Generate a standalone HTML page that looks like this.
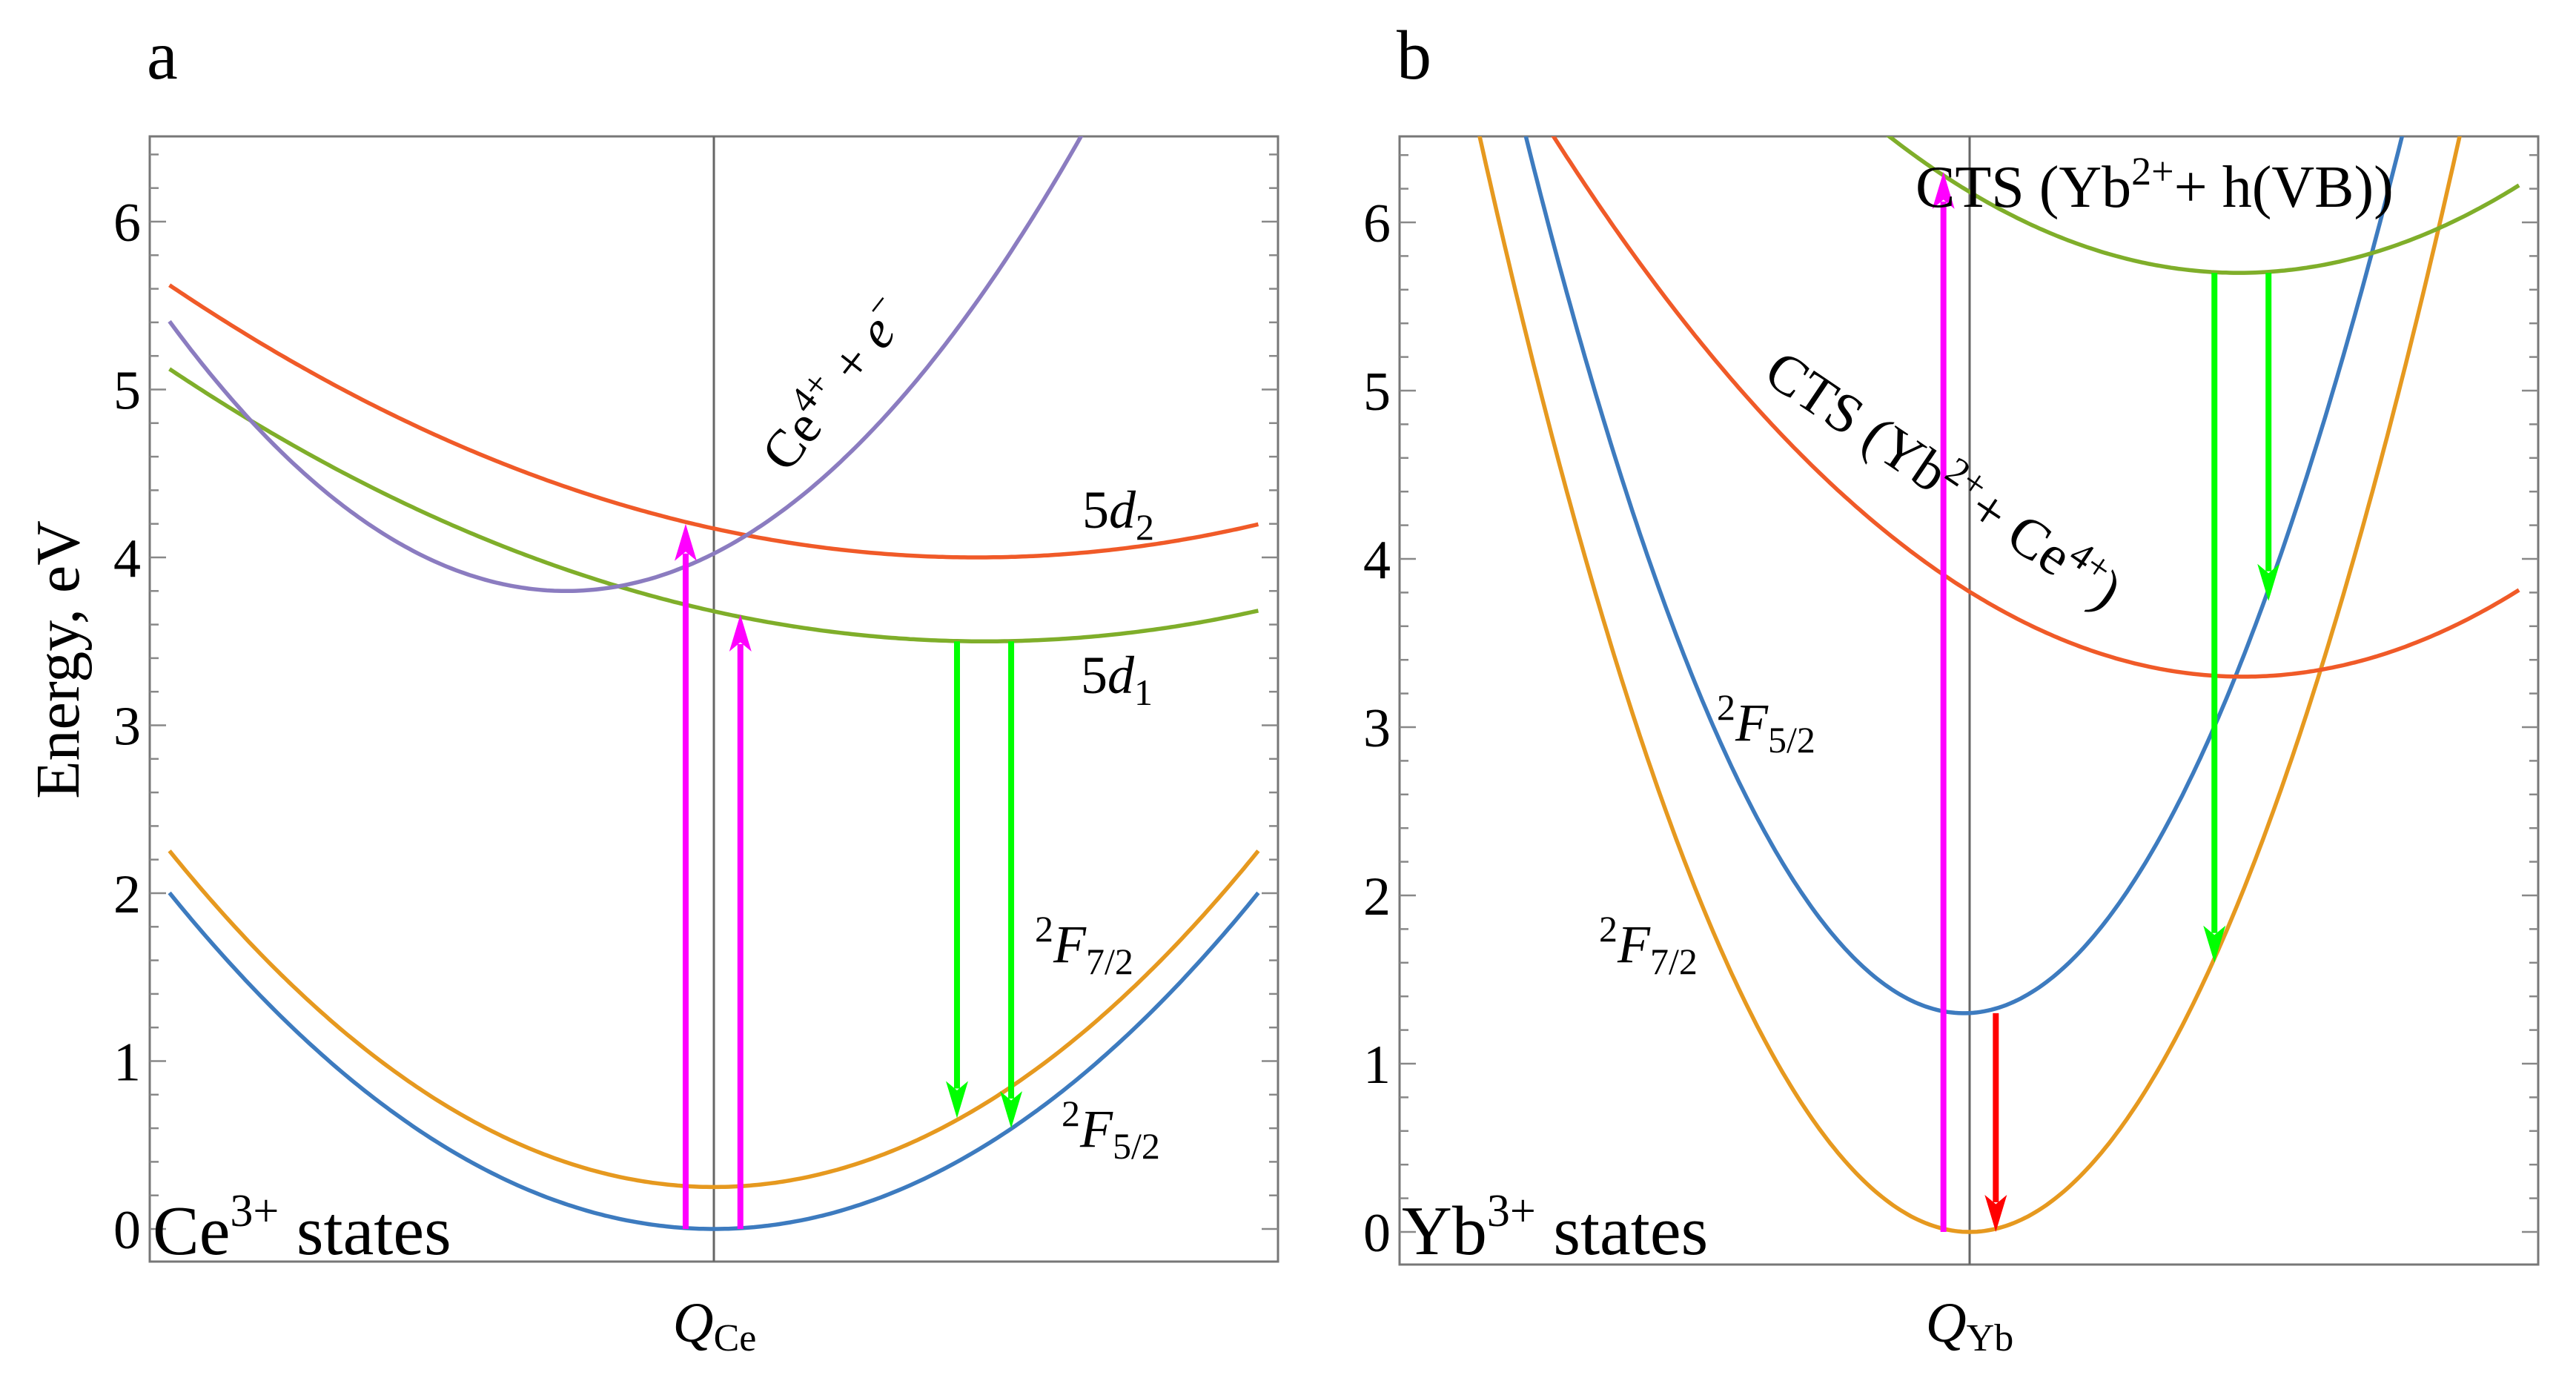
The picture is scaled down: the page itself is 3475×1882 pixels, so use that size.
<!DOCTYPE html>
<html><head><meta charset="utf-8">
<style>
html,body{margin:0;padding:0;background:#fff;}
svg{display:block;}
svg text{font-family:"Liberation Serif","DejaVu Serif",serif;}
</style></head>
<body>
<svg id="chart" width="3475" height="1882" viewBox="0 0 3475 1882" xmlns="http://www.w3.org/2000/svg" font-family="Liberation Serif, serif">
<defs>
<clipPath id="clipA"><rect x="202" y="184" width="1522" height="1518"/></clipPath>
<clipPath id="clipB"><rect x="1888" y="184" width="1536" height="1522"/></clipPath>
</defs>
<g id="panelA"></g>
<g id="panelB"></g>

<text x="198" y="106" font-size="94">a</text>
<text x="1884" y="106" font-size="94">b</text>
<text transform="translate(106,890) rotate(-90)" text-anchor="middle" font-size="84">Energy, eV</text>

<text x="964" y="1810" text-anchor="middle" font-size="76" font-style="italic">Q<tspan font-style="normal" font-size="52" dy="12">Ce</tspan></text>
<text x="2657" y="1810" text-anchor="middle" font-size="76" font-style="italic">Q<tspan font-style="normal" font-size="52" dy="12">Yb</tspan></text>

<text transform="translate(1062,640) rotate(-52)" font-size="72">Ce<tspan font-size="50" dy="-28">4+</tspan><tspan dy="28"> + </tspan><tspan font-style="italic">e</tspan><tspan font-size="50" dy="-28">−</tspan></text>
<text x="1460" y="712" font-size="72">5<tspan font-style="italic">d</tspan><tspan font-size="50" dy="16">2</tspan></text>
<text x="1458" y="935" font-size="72">5<tspan font-style="italic">d</tspan><tspan font-size="50" dy="16">1</tspan></text>
<text x="1396" y="1298" font-size="72"><tspan font-size="50" dy="-28">2</tspan><tspan font-style="italic" dy="28">F</tspan><tspan font-size="50" dy="16">7/2</tspan></text>
<text x="1432" y="1547" font-size="72"><tspan font-size="50" dy="-28">2</tspan><tspan font-style="italic" dy="28">F</tspan><tspan font-size="50" dy="16">5/2</tspan></text>
<text x="206" y="1692" font-size="94">Ce<tspan font-size="62" dy="-38">3+</tspan><tspan dy="38"> states</tspan></text>

<text x="2584" y="279" font-size="80">CTS (Yb<tspan font-size="54" dy="-30">2+</tspan><tspan dy="30">+ h(VB))</tspan></text>
<text transform="translate(2376,512) rotate(34)" font-size="76">CTS (Yb<tspan font-size="52" dy="-28">2+</tspan><tspan dy="28">+ Ce</tspan><tspan font-size="52" dy="-28">4+</tspan><tspan dy="28">)</tspan></text>
<text x="2316" y="999" font-size="72"><tspan font-size="50" dy="-28">2</tspan><tspan font-style="italic" dy="28">F</tspan><tspan font-size="50" dy="16">5/2</tspan></text>
<text x="2157" y="1298" font-size="72"><tspan font-size="50" dy="-28">2</tspan><tspan font-style="italic" dy="28">F</tspan><tspan font-size="50" dy="16">7/2</tspan></text>
<text x="1891" y="1692" font-size="94">Yb<tspan font-size="62" dy="-38">3+</tspan><tspan dy="38"> states</tspan></text>
</svg>
<script>
// Panel a data: parabolas E = minE + k*(x - minX)^2
const namesA = ['2F5/2','2F7/2','5d1','5d2','Ce4+ + e'];
const minXA = [0, 0, 0.48, 0.466, -0.262];
const minEA = [0, 0.25, 3.5, 4.0, 3.8];
const curvA = [2.15, 2.15, 0.777, 0.792, 3.25];
const colorsA = ['#3d7bbf','#e6991f','#7fae2a','#f05a28','#8b7cc0'];
const arrowXA = [-0.05, 0.047, 0.431, 0.527];
const arrowFromA = [0, 0, 3.5, 3.5];
const arrowToA = [4.2, 3.66, 0.66, 0.6];
const arrowColA = ['#ff00ff','#ff00ff','#00ff00','#00ff00'];
// Panel b data
const namesB = ['2F7/2','2F5/2','CTS Yb2+ Ce4+','CTS Yb2+ h(VB)'];
const minXB = [0, -0.01, 0.48, 0.473];
const minEB = [0, 1.3, 3.3, 5.7];
const curvB = [8.79, 8.8, 2.19, 2.15];
const colorsB = ['#e6991f','#3d7bbf','#f05a28','#7fae2a'];
const arrowXB = [-0.046, 0.046, 0.43, 0.525];
const arrowFromB = [0, 1.3, 5.7, 5.7];
const arrowToB = [6.3, 0, 1.6, 3.75];
const arrowColB = ['#ff00ff','#ff0000','#00ff00','#00ff00'];
const yTicks = [0,1,2,3,4,5,6];

const NS = 'http://www.w3.org/2000/svg';
function mk(tag, attrs, parent){const e=document.createElementNS(NS,tag);for(const k in attrs)e.setAttribute(k,attrs[k]);parent.appendChild(e);return e;}

function drawPanel(g, P, names, minX, minE, curv, colors, ax, af, at, ac, tag){
  const sx = x => P.cx + x*P.hw;
  const sy = e => P.y0 - e*P.ppu;
  const fr = mk('rect',{x:P.l,y:P.t,width:P.r-P.l,height:P.b-P.t,fill:'none',stroke:'#777','stroke-width':3},g);
  
  
  for(let i=0;i<=32;i++){
    const e=i*0.2; const y=sy(e); if(y<P.t) break;
    const major = i%5===0; const len = major?22:12;
    const t1 = mk('line',{x1:P.l,x2:P.l+len,y1:y,y2:y,stroke:'#888','stroke-width':2.5},g);
    
    
    const t2 = mk('line',{x1:P.r,x2:P.r-len,y1:y,y2:y,stroke:'#888','stroke-width':2.5},g);
    
    
  }
  yTicks.forEach(v=>{
    const t = mk('text',{x:P.l-12,y:sy(v)+26,'text-anchor':'end','font-size':74},g);
    t.textContent = v;
    
    
  });
  const cl = mk('line',{x1:sx(0),x2:sx(0),y1:P.t,y2:P.b,stroke:'#666','stroke-width':3},g);
  
  
  const cg = mk('g',{'clip-path':'url(#'+P.clip+')'},g);
  names.forEach((n,i)=>{
    let d='';
    for(let j=0;j<=300;j++){
      const x=-0.965+1.93*j/300; const e=minE[i]+curv[i]*(x-minX[i])**2;
      d += (j?'L':'M')+sx(x).toFixed(1)+','+sy(e).toFixed(1);
    }
    const p = mk('path',{d:d,fill:'none',stroke:colors[i],'stroke-width':5.5},cg);
    
    
  });
  ax.forEach((x,i)=>{
    const X=sx(x), y1=sy(af[i]), y2=sy(at[i]); const dir = y2<y1?-1:1;
    const hl=50, hw=15;
    const ag = mk('g',{},g);
    
    
    mk('line',{x1:X,x2:X,y1:y1,y2:y2-dir*hl*0.8,stroke:ac[i],'stroke-width':8},ag);
    mk('polygon',{points:`${X},${y2} ${X-hw},${y2-dir*hl} ${X},${y2-dir*hl*0.75} ${X+hw},${y2-dir*hl}`,fill:ac[i]},ag);
  });
}
const PA={l:202,r:1724,t:184,b:1702,cx:963,hw:761,y0:1658,ppu:226.5,clip:'clipA'};
const PB={l:1888,r:3424,t:184,b:1706,cx:2657,hw:768,y0:1662,ppu:227,clip:'clipB'};
drawPanel(document.getElementById('panelA'),PA,namesA,minXA,minEA,curvA,colorsA,arrowXA,arrowFromA,arrowToA,arrowColA,'a');
drawPanel(document.getElementById('panelB'),PB,namesB,minXB,minEB,curvB,colorsB,arrowXB,arrowFromB,arrowToB,arrowColB,'b');
</script>
</body></html>
